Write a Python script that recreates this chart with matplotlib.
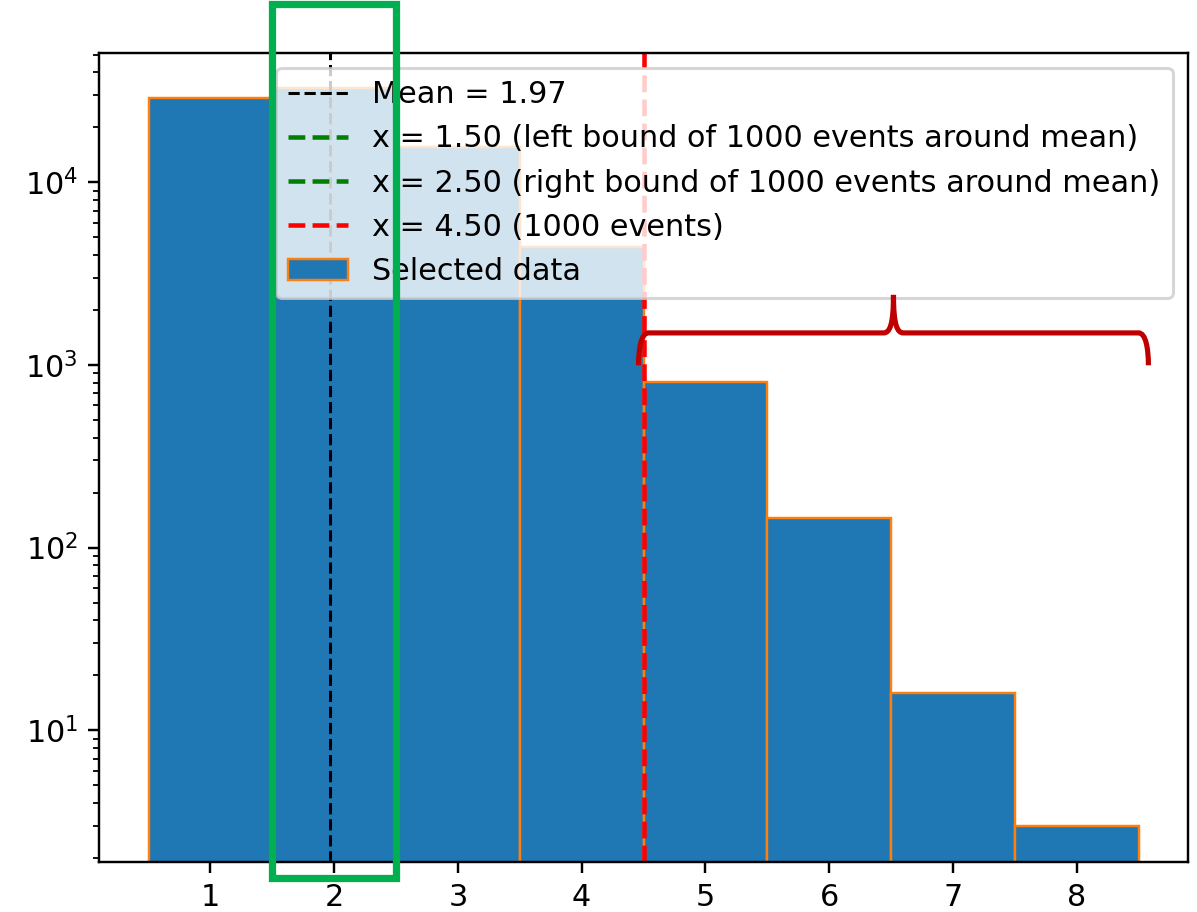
import matplotlib
matplotlib.use("Agg")
import matplotlib.pyplot as plt
import numpy as np
from matplotlib.patches import Rectangle, PathPatch
from matplotlib.path import Path
from matplotlib.transforms import blended_transform_factory

# histogram content
bin_centers = [1, 2, 3, 4, 5, 6, 7, 8]
counts = [29100, 32700, 15500, 4420, 807, 146, 16, 3]
mean_value = 1.97
left_bound = 1.50
right_bound = 2.50
cut_value = 4.50

DPI = 218
fig = plt.figure(figsize=(1197 / DPI, 912 / DPI), dpi=DPI)
ax = fig.add_axes([99 / 1197, 1 - 862 / 912, (1188 - 99) / 1197, (862 - 53) / 912])

edges = np.arange(min(bin_centers) - 0.5, max(bin_centers) + 1.0, 1.0)
ax.axvline(mean_value, color="black", linestyle="--", linewidth=1.0, label=f"Mean = {mean_value:.2f}")
ax.axvline(left_bound, color="green", linestyle="--", linewidth=1.5,
           label=f"x = {left_bound:.2f} (left bound of 1000 events around mean)")
ax.axvline(right_bound, color="green", linestyle="--", linewidth=1.5,
           label=f"x = {right_bound:.2f} (right bound of 1000 events around mean)")
ax.axvline(cut_value, color="red", linestyle="--", linewidth=1.5,
           label=f"x = {cut_value:.2f} (1000 events)")
ax.hist(bin_centers, bins=edges, weights=counts, log=True, color="tab:blue",
        edgecolor="tab:orange", linewidth=0.8, label="Selected data", zorder=0.5)

ax.set_xticks(bin_centers)
ax.set_ylim(1.9, 51000)
ax.set_xlim(edges[0] - 0.4, edges[-1] + 0.4)
ax.legend(loc="upper right", fontsize=10)

# overlay annotations: green box around the mean window, red brace over the tail
trans = blended_transform_factory(ax.transData, ax.transAxes)
box = Rectangle((left_bound, -0.02), right_bound - left_bound, 1.08, transform=trans,
                fill=False, edgecolor="#00B050", linewidth=2.4, clip_on=False, zorder=10)
ax.add_patch(box)

x0, x1 = cut_value - 0.04, edges[-1] + 0.08
xm = (x0 + x1) / 2
yb, yh, yt = 0.614, 0.654, 0.701
verts = [
    (x0, yb), (x0, yh - 0.02), (x0 + 0.02, yh), (x0 + 0.08, yh),
    (xm - 0.08, yh),
    (xm - 0.03, yh), (xm, yh + 0.01), (xm, yt),
    (xm, yh + 0.01), (xm + 0.03, yh), (xm + 0.08, yh),
    (x1 - 0.08, yh),
    (x1 - 0.02, yh), (x1, yh - 0.02), (x1, yb),
]
codes = [Path.MOVETO, Path.CURVE4, Path.CURVE4, Path.CURVE4,
         Path.LINETO,
         Path.CURVE4, Path.CURVE4, Path.CURVE4,
         Path.CURVE4, Path.CURVE4, Path.CURVE4,
         Path.LINETO,
         Path.CURVE4, Path.CURVE4, Path.CURVE4]
brace = PathPatch(Path(verts, codes), transform=trans, fill=False,
                  edgecolor="#C00000", linewidth=1.7, clip_on=False, zorder=10)
ax.add_patch(brace)

fig.savefig("out.png", dpi=DPI)
